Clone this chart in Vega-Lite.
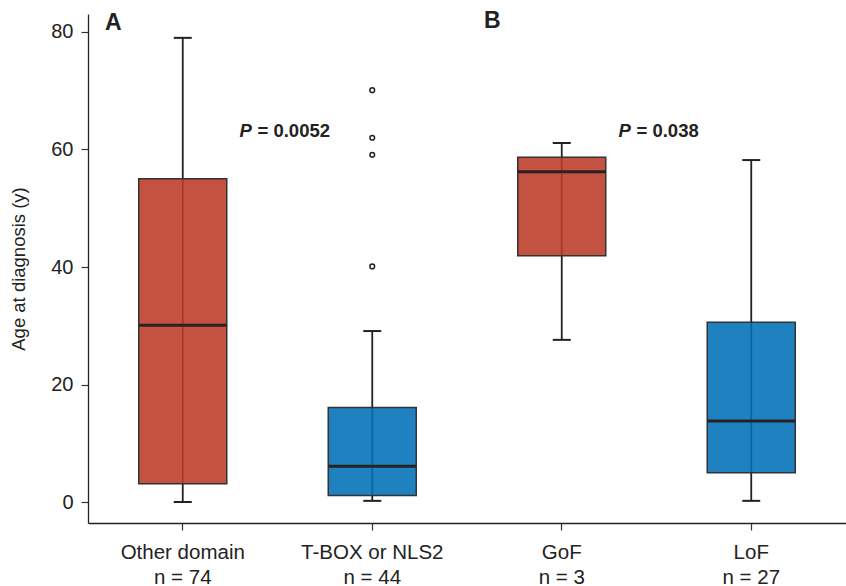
{
  "$schema": "https://vega.github.io/schema/vega-lite/v6.json",
  "width": 758,
  "height": 509,
  "autosize": {"type": "none"},
  "padding": {"left": 88, "top": 14, "right": 0, "bottom": 63},
  "background": "white",
  "config": {"view": {"stroke": null}, "font": "Liberation Sans"},
  "datasets": {
    "boxes": [
      {"group": "Other domain\nn = 74", "kind": "first", "min": 0, "q1": 3.1, "median": 30.1, "q3": 55.0, "max": 79.0},
      {"group": "T-BOX or NLS2\nn = 44", "kind": "second", "min": 0.2, "q1": 1.1, "median": 6.1, "q3": 16.1, "max": 29.1},
      {"group": "GoF\nn = 3", "kind": "first", "min": 27.6, "q1": 41.9, "median": 56.2, "q3": 58.7, "max": 61.1},
      {"group": "LoF\nn = 27", "kind": "second", "min": 0.2, "q1": 5.0, "median": 13.8, "q3": 30.6, "max": 58.2}
    ],
    "outliers": [
      {"group": "T-BOX or NLS2\nn = 44", "age": 70.1},
      {"group": "T-BOX or NLS2\nn = 44", "age": 62.0},
      {"group": "T-BOX or NLS2\nn = 44", "age": 59.1},
      {"group": "T-BOX or NLS2\nn = 44", "age": 40.1}
    ],
    "pvals": [
      {"group": "Other domain\nn = 74", "y": 63.1, "p": "P", "rest": "= 0.0052"},
      {"group": "GoF\nn = 3", "y": 63.2, "p": "P", "rest": "= 0.038"}
    ],
    "panels": [
      {"group": "Other domain\nn = 74", "y": 81.6, "label": "A"},
      {"group": "GoF\nn = 3", "y": 81.9, "label": "B"}
    ]
  },
  "layer": [
    {
      "data": {"name": "boxes"},
      "mark": {"type": "rule", "color": "#222222", "strokeWidth": 1.8},
      "encoding": {
        "x": {
          "field": "group", "type": "nominal",
          "scale": {"domain": ["Other domain\nn = 74", "T-BOX or NLS2\nn = 44", "GoF\nn = 3", "LoF\nn = 27"], "paddingInner": 0, "paddingOuter": 0},
          "axis": {
            "title": null, "labelAngle": 0, "labelExpr": "split(datum.label, '\\n')",
            "labelFontSize": 20.5, "labelLineHeight": 25, "labelColor": "#222222", "labelPadding": 12,
            "tickSize": 7, "tickColor": "#333333", "tickWidth": 1.2,
            "domainColor": "#222222", "domainWidth": 1.3
          }
        },
        "y": {
          "field": "min", "type": "quantitative", "title": "Age at diagnosis (y)",
          "scale": {"domain": [-3.57, 83.06], "nice": false, "zero": false},
          "axis": {
            "values": [0, 20, 40, 60, 80], "grid": false,
            "tickSize": 7, "tickColor": "#333333", "tickWidth": 1.2,
            "domainColor": "#222222", "domainWidth": 1.3,
            "labelFontSize": 20, "labelColor": "#222222", "labelPadding": 8,
            "titleFontSize": 18.5, "titleFontWeight": "normal", "titleColor": "#222222", "titlePadding": 22
          }
        },
        "y2": {"field": "max"}
      }
    },
    {
      "data": {"name": "boxes"},
      "mark": {"type": "bar", "width": 88, "fillOpacity": 0.88, "stroke": "#333333", "strokeWidth": 1.5, "strokeOpacity": 1},
      "encoding": {
        "x": {"field": "group", "type": "nominal"},
        "y": {"field": "q1", "type": "quantitative", "title": "Age at diagnosis (y)"},
        "y2": {"field": "q3"},
        "color": {"field": "kind", "type": "nominal", "scale": {"domain": ["first", "second"], "range": ["#BC3A26", "#006FB6"]}, "legend": null}
      }
    },
    {
      "data": {"name": "boxes"},
      "mark": {"type": "tick", "size": 88, "thickness": 3, "color": "#2a2222", "opacity": 1},
      "encoding": {
        "x": {"field": "group", "type": "nominal"},
        "y": {"field": "median", "type": "quantitative", "title": "Age at diagnosis (y)"}
      }
    },
    {
      "data": {"name": "boxes"},
      "mark": {"type": "tick", "size": 18, "thickness": 2, "color": "#222222", "opacity": 1},
      "encoding": {
        "x": {"field": "group", "type": "nominal"},
        "y": {"field": "min", "type": "quantitative", "title": "Age at diagnosis (y)"}
      }
    },
    {
      "data": {"name": "boxes"},
      "mark": {"type": "tick", "size": 18, "thickness": 2, "color": "#222222", "opacity": 1},
      "encoding": {
        "x": {"field": "group", "type": "nominal"},
        "y": {"field": "max", "type": "quantitative", "title": "Age at diagnosis (y)"}
      }
    },
    {
      "data": {"name": "outliers"},
      "mark": {"type": "point", "shape": "circle", "filled": false, "size": 22, "stroke": "#222222", "strokeWidth": 1.5, "opacity": 1},
      "encoding": {
        "x": {"field": "group", "type": "nominal"},
        "y": {"field": "age", "type": "quantitative", "title": "Age at diagnosis (y)"}
      }
    },
    {
      "data": {"name": "pvals"},
      "mark": {"type": "text", "align": "left", "baseline": "middle", "fontSize": 18.5, "fontWeight": "bold", "fontStyle": "italic", "color": "#222222", "dx": -38},
      "encoding": {
        "x": {"field": "group", "type": "nominal", "bandPosition": 1},
        "y": {"field": "y", "type": "quantitative", "title": "Age at diagnosis (y)"},
        "text": {"field": "p"}
      }
    },
    {
      "data": {"name": "pvals"},
      "mark": {"type": "text", "align": "left", "baseline": "middle", "fontSize": 18.5, "fontWeight": "bold", "color": "#222222", "dx": -20},
      "encoding": {
        "x": {"field": "group", "type": "nominal", "bandPosition": 1},
        "y": {"field": "y", "type": "quantitative", "title": "Age at diagnosis (y)"},
        "text": {"field": "rest"}
      }
    },
    {
      "data": {"name": "panels"},
      "mark": {"type": "text", "align": "left", "baseline": "middle", "fontSize": 23, "fontWeight": "bold", "color": "#222222", "dx": 17},
      "encoding": {
        "x": {"field": "group", "type": "nominal", "bandPosition": 0},
        "y": {"field": "y", "type": "quantitative", "title": "Age at diagnosis (y)"},
        "text": {"field": "label"}
      }
    }
  ]
}
